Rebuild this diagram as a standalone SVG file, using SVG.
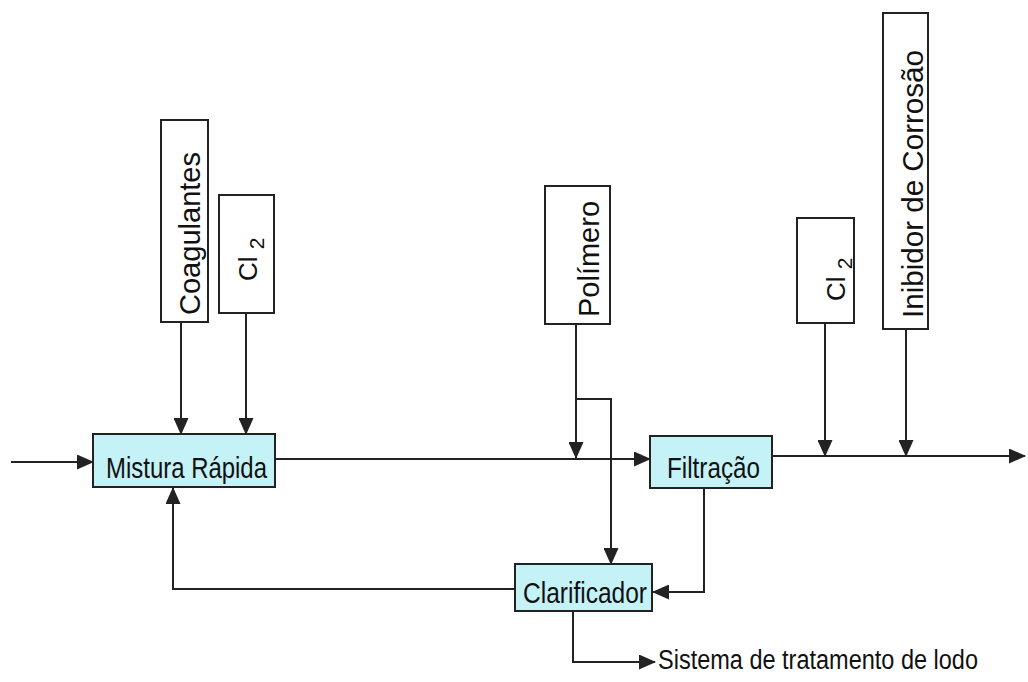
<svg xmlns="http://www.w3.org/2000/svg" width="1028" height="682" viewBox="0 0 1028 682">
<style>
.box{fill:#fff;stroke:#222;stroke-width:2}
.proc{fill:#c4f2f7;stroke:#222;stroke-width:2}
.t{font-family:"Liberation Sans",Arial,sans-serif;fill:#111}
.c{fill:none;stroke:#222;stroke-width:2}
</style>
<defs>
<marker id="ah" markerUnits="userSpaceOnUse" markerWidth="17" markerHeight="15" refX="16" refY="7.5" orient="auto">
<path d="M0,0 L17,7.5 L0,15 z" fill="#222"/>
</marker>
</defs>
<rect width="1028" height="682" fill="#fff"/>

<g id="connectors">
<path class="c" d="M11,462 H93" marker-end="url(#ah)"/>
<path class="c" d="M181,322 V434" marker-end="url(#ah)"/>
<path class="c" d="M246,313 V434" marker-end="url(#ah)"/>
<path class="c" d="M275,459 H650" marker-end="url(#ah)"/>
<path class="c" d="M576,324 V458" marker-end="url(#ah)"/>
<path class="c" d="M576,399 H611 V564" marker-end="url(#ah)"/>
<path class="c" d="M772,456 H1025" marker-end="url(#ah)"/>
<path class="c" d="M825,323 V456" marker-end="url(#ah)"/>
<path class="c" d="M906,329 V456" marker-end="url(#ah)"/>
<path class="c" d="M704,488 V592 H653" marker-end="url(#ah)"/>
<path class="c" d="M515,589 H173 V488" marker-end="url(#ah)"/>
<path class="c" d="M573,611 V662 H655" marker-end="url(#ah)"/>
</g>

<g id="coagulantes">
<rect class="box" x="161" y="120" width="47" height="202"/>
<text class="t" font-size="30" transform="translate(200,315) rotate(-90)" textLength="163" lengthAdjust="spacingAndGlyphs">Coagulantes</text>
</g>

<g id="cl2-a">
<rect class="box" x="219" y="195" width="55" height="118"/>
<text class="t" font-size="26" transform="translate(257,281) rotate(-90)">Cl <tspan font-size="21" dy="7">2</tspan></text>
</g>

<g id="polimero">
<rect class="box" x="545" y="186" width="65" height="138"/>
<text class="t" font-size="30" transform="translate(599,317) rotate(-90)" textLength="116" lengthAdjust="spacingAndGlyphs">Polímero</text>
</g>

<g id="cl2-b">
<rect class="box" x="797" y="218" width="57" height="105"/>
<text class="t" font-size="26" transform="translate(845,301) rotate(-90)">Cl <tspan font-size="21" dy="7">2</tspan></text>
</g>

<g id="inibidor">
<rect class="box" x="883" y="13" width="45" height="316"/>
<text class="t" font-size="29" transform="translate(923,318) rotate(-90)" textLength="268" lengthAdjust="spacingAndGlyphs">Inibidor de Corrosão</text>
</g>

<g id="mistura">
<rect class="proc" x="93" y="434" width="182" height="53"/>
<text class="t" font-size="29" x="106" y="478" textLength="161" lengthAdjust="spacingAndGlyphs">Mistura Rápida</text>
</g>

<g id="filtracao">
<rect class="proc" x="650" y="436" width="122" height="52"/>
<text class="t" font-size="29" x="667" y="478" textLength="93" lengthAdjust="spacingAndGlyphs">Filtração</text>
</g>

<g id="clarificador">
<rect class="proc" x="515" y="564" width="137" height="47"/>
<text class="t" font-size="29" x="523" y="603" textLength="124" lengthAdjust="spacingAndGlyphs">Clarificador</text>
</g>

<g id="lodo">
<text class="t" font-size="27" x="658" y="669" textLength="320" lengthAdjust="spacingAndGlyphs">Sistema de tratamento de lodo</text>
</g>
</svg>
